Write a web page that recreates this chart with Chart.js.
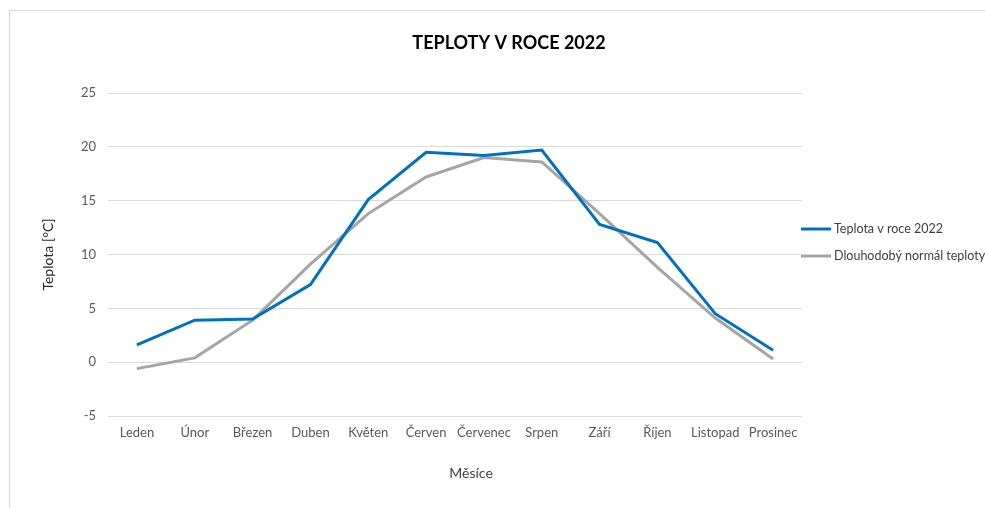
<!DOCTYPE html>
<html>
<head>
<meta charset="utf-8">
<script src="https://cdn.jsdelivr.net/npm/chart.js@4.4.1/dist/chart.umd.min.js"></script>
<style>
  body { margin: 0; background: #fff; overflow: hidden; }
  #wrap { position: relative; width: 985px; height: 508px; }
  #frame { position: absolute; left: 9px; top: 10px; width: 990px; height: 510px; border: 1px solid #d9d9d9; }
  #myChart { position: absolute; left: 0; top: 0; }
</style>
</head>
<body>
<div id="wrap">
  <div id="frame"></div>
  <canvas id="myChart" width="985" height="508"></canvas>
</div>
<script>
var mesice = ["Leden", "Únor", "Březen", "Duben", "Květen", "Červen", "Červenec", "Srpen", "Září", "Říjen", "Listopad", "Prosinec"];
var teplota2022 = [1.6, 3.9, 4.0, 7.2, 15.1, 19.5, 19.2, 19.7, 12.8, 11.1, 4.5, 1.1];
var normal = [-0.6, 0.4, 3.9, 9.1, 13.8, 17.2, 19.0, 18.6, 13.8, 8.8, 4.1, 0.3];
var nazvy = ["Teplota v roce 2022", "Dlouhodobý normál teploty"];
var barvy = ["#0070C0", "#A5A5A5"];

var font = "Lato";
var textColor = "#595959";

// title, x axis title and legend drawn by hand, Excel style (legend gets clipped at the edge)
var popisky = {
  id: "popisky",
  afterDraw: function (chart) {
    var ctx = chart.ctx;
    var ca = chart.chartArea;
    ctx.save();
    ctx.textAlign = "center";
    ctx.textBaseline = "middle";
    ctx.fillStyle = "#000";
    ctx.font = "bold 18px " + font;
    ctx.fillText("TEPLOTY V ROCE 2022", ca.left + ca.width / 2 + 54, 43);
    ctx.fillStyle = "#404040";
    ctx.font = "14px " + font;
    ctx.fillText("Měsíce", ca.left + ca.width / 2 + 16, 473);

    ctx.textAlign = "left";
    ctx.font = "12.5px " + font;
    chart.data.datasets.forEach(function (ds, i) {
      var y = ca.top + 136 + i * 27;
      ctx.strokeStyle = ds.borderColor;
      ctx.lineWidth = 3;
      ctx.beginPath();
      ctx.moveTo(ca.right - 1, y);
      ctx.lineTo(ca.right + 29, y);
      ctx.stroke();
      ctx.fillStyle = "#404040";
      ctx.fillText(ds.label, ca.right + 32, y);
    });
    ctx.restore();
  }
};

new Chart("myChart", {
  type: "line",
  data: {
    labels: mesice,
    datasets: [{
      label: nazvy[0],
      data: teplota2022,
      borderColor: barvy[0],
      backgroundColor: barvy[0],
      borderWidth: 3,
      pointRadius: 0,
      tension: 0
    }, {
      label: nazvy[1],
      data: normal,
      borderColor: barvy[1],
      backgroundColor: barvy[1],
      borderWidth: 3,
      pointRadius: 0,
      tension: 0
    }]
  },
  options: {
    responsive: false,
    animation: false,
    layout: { padding: { left: 30, right: 183, top: 93, bottom: 22 } },
    plugins: {
      legend: { display: false },
      tooltip: { enabled: false },
      title: { display: false }
    },
    scales: {
      x: {
        offset: true,
        grid: { display: false, drawTicks: false },
        border: { display: false },
        ticks: { color: textColor, font: { family: font, size: 13 }, padding: 9, maxRotation: 0, autoSkip: false },
        afterFit: function (scale) { scale.height = 70; }
      },
      y: {
        min: -5,
        max: 25,
        ticks: { stepSize: 5, color: textColor, font: { family: font, size: 13 }, padding: 12 },
        grid: { color: "#d9d9d9", drawTicks: false },
        border: { display: false },
        title: { display: true, text: "Teplota [°C]", color: "#262626", font: { family: font, size: 14 }, padding: { top: 10, bottom: 0 } },
        afterFit: function (scale) { scale.width = 78; }
      }
    }
  },
  plugins: [popisky]
});
</script>
</body>
</html>
